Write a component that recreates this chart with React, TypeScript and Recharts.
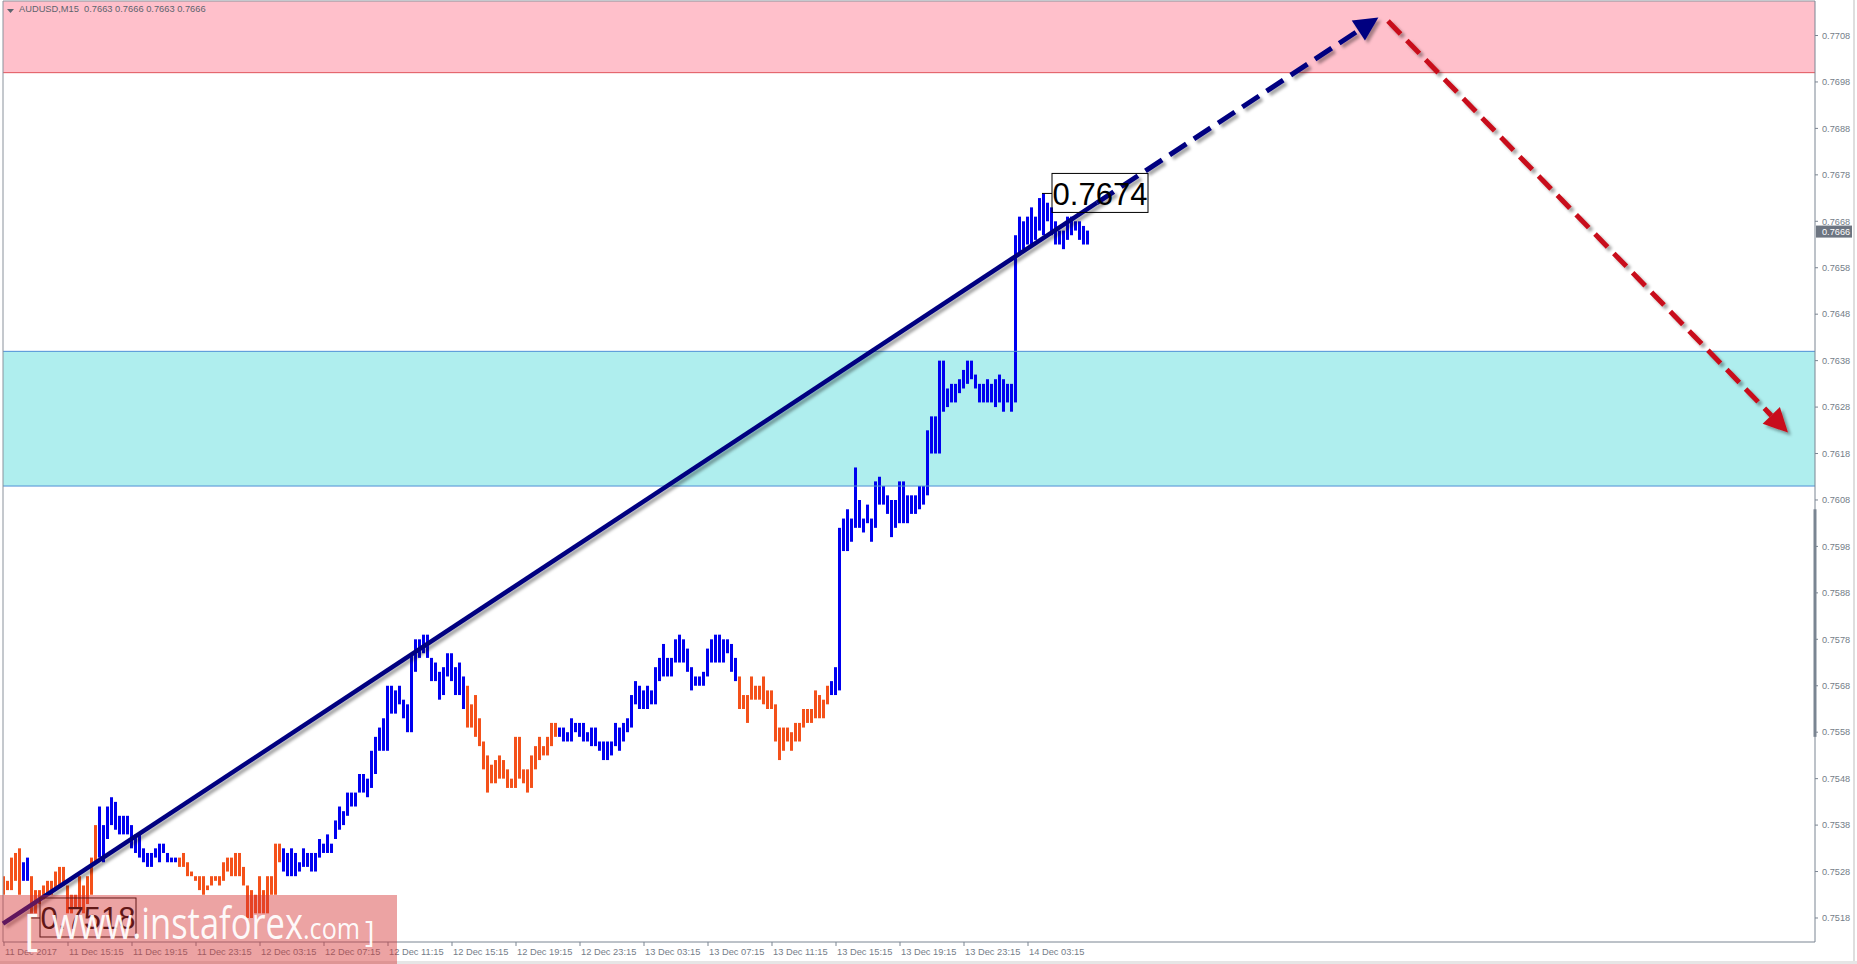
import React from 'react';
import { BarChart, Bar, XAxis, YAxis, Cell, ReferenceArea, ReferenceLine, ReferenceDot } from 'recharts';

const symbol = 'AUDUSD';
const timeframe = 'M15';
// open, high, low, close of the last bar
const lastQuote = [0.7663, 0.7666, 0.7663, 0.7666];

const timeLabels = [
  '11 Dec 2017', '11 Dec 15:15', '11 Dec 19:15', '11 Dec 23:15', '12 Dec 03:15', '12 Dec 07:15',
  '12 Dec 11:15', '12 Dec 15:15', '12 Dec 19:15', '12 Dec 23:15', '13 Dec 03:15', '13 Dec 07:15',
  '13 Dec 11:15', '13 Dec 15:15', '13 Dec 19:15', '13 Dec 23:15', '14 Dec 03:15',
];
const barsPerLabel = 16;

const priceTicks = [
  0.7518, 0.7528, 0.7538, 0.7548, 0.7558, 0.7568, 0.7578, 0.7588, 0.7598, 0.7608,
  0.7618, 0.7628, 0.7638, 0.7648, 0.7658, 0.7668, 0.7678, 0.7688, 0.7698, 0.7708,
];

// M15 bars, 16 per row (4 hours)
const lows = [
  0.7523, 0.7524, 0.7524, 0.7526, 0.7523, 0.7526, 0.7526, 0.7519, 0.7519, 0.7521, 0.7522, 0.7523, 0.7523, 0.7524, 0.7525, 0.7525,
  0.7519, 0.7519, 0.7520, 0.7520, 0.7519, 0.7521, 0.7523, 0.7530, 0.7531, 0.7530, 0.7535, 0.7538, 0.7537, 0.7536, 0.7536, 0.7536,
  0.7533, 0.7532, 0.7531, 0.7530, 0.7529, 0.7529, 0.7531, 0.7530, 0.7532, 0.7530, 0.7530, 0.7530, 0.7529, 0.7529, 0.7527, 0.7527,
  0.7526, 0.7524, 0.7523, 0.7524, 0.7525, 0.7526, 0.7525, 0.7526, 0.7528, 0.7527, 0.7527, 0.7527, 0.7525, 0.7518, 0.7518, 0.7519,
  0.7519, 0.7519, 0.7519, 0.7523, 0.7523, 0.7530, 0.7528, 0.7527, 0.7527, 0.7527, 0.7528, 0.7529, 0.7529, 0.7528, 0.7528, 0.7531,
  0.7532, 0.7532, 0.7532, 0.7535, 0.7537, 0.7538, 0.7540, 0.7542, 0.7542, 0.7545, 0.7545, 0.7544, 0.7546, 0.7549, 0.7554, 0.7554,
  0.7554, 0.7562, 0.7562, 0.7564, 0.7561, 0.7558, 0.7558, 0.7571, 0.7574, 0.7575, 0.7574, 0.7569, 0.7569, 0.7565, 0.7566, 0.7570,
  0.7569, 0.7566, 0.7566, 0.7563, 0.7559, 0.7559, 0.7557, 0.7555, 0.7550, 0.7545, 0.7547, 0.7547, 0.7548, 0.7548, 0.7546, 0.7546,
  0.7546, 0.7548, 0.7547, 0.7545, 0.7546, 0.7550, 0.7552, 0.7553, 0.7553, 0.7555, 0.7557, 0.7557, 0.7556, 0.7556, 0.7556, 0.7558,
  0.7557, 0.7556, 0.7556, 0.7555, 0.7555, 0.7554, 0.7552, 0.7552, 0.7553, 0.7555, 0.7554, 0.7556, 0.7558, 0.7559, 0.7564, 0.7563,
  0.7563, 0.7563, 0.7564, 0.7564, 0.7569, 0.7570, 0.7570, 0.7570, 0.7573, 0.7573, 0.7573, 0.7571, 0.7567, 0.7568, 0.7568, 0.7568,
  0.7570, 0.7573, 0.7573, 0.7573, 0.7573, 0.7575, 0.7571, 0.7569, 0.7563, 0.7563, 0.7560, 0.7565, 0.7565, 0.7565, 0.7564, 0.7563,
  0.7563, 0.7556, 0.7552, 0.7554, 0.7556, 0.7554, 0.7556, 0.7556, 0.7559, 0.7560, 0.7560, 0.7561, 0.7561, 0.7561, 0.7564, 0.7566,
  0.7566, 0.7567, 0.7597, 0.7597, 0.7599, 0.7602, 0.7602, 0.7601, 0.7603, 0.7599, 0.7602, 0.7607, 0.7607, 0.7605, 0.7600, 0.7602,
  0.7603, 0.7603, 0.7603, 0.7605, 0.7605, 0.7606, 0.7607, 0.7609, 0.7618, 0.7618, 0.7618, 0.7627, 0.7628, 0.7629, 0.7629, 0.7631,
  0.7632, 0.7633, 0.7634, 0.7632, 0.7629, 0.7629, 0.7629, 0.7629, 0.7628, 0.7629, 0.7627, 0.7629, 0.7627, 0.7629, 0.7661, 0.7662,
  0.7663, 0.7663, 0.7664, 0.7666, 0.7665, 0.7668, 0.7665, 0.7663, 0.7663, 0.7662, 0.7664, 0.7665, 0.7666, 0.7664, 0.7663, 0.7663,
];

const highs = [
  0.7527, 0.7526, 0.7531, 0.7532, 0.7533, 0.7530, 0.7531, 0.7527, 0.7524, 0.7524, 0.7525, 0.7526, 0.7526, 0.7528, 0.7529, 0.7529,
  0.7525, 0.7523, 0.7523, 0.7527, 0.7525, 0.7527, 0.7531, 0.7538, 0.7542, 0.7538, 0.7542, 0.7544, 0.7543, 0.7540, 0.7540, 0.7540,
  0.7538, 0.7536, 0.7536, 0.7533, 0.7532, 0.7532, 0.7533, 0.7534, 0.7534, 0.7532, 0.7531, 0.7531, 0.7531, 0.7532, 0.7530, 0.7528,
  0.7527, 0.7527, 0.7527, 0.7525, 0.7527, 0.7527, 0.7527, 0.7530, 0.7531, 0.7531, 0.7532, 0.7532, 0.7529, 0.7525, 0.7524, 0.7523,
  0.7527, 0.7524, 0.7527, 0.7527, 0.7534, 0.7534, 0.7533, 0.7532, 0.7533, 0.7532, 0.7530, 0.7533, 0.7532, 0.7532, 0.7532, 0.7535,
  0.7534, 0.7536, 0.7534, 0.7539, 0.7542, 0.7541, 0.7545, 0.7545, 0.7545, 0.7549, 0.7549, 0.7548, 0.7554, 0.7557, 0.7559, 0.7561,
  0.7568, 0.7568, 0.7567, 0.7568, 0.7565, 0.7564, 0.7575, 0.7578, 0.7578, 0.7579, 0.7579, 0.7574, 0.7573, 0.7571, 0.7572, 0.7575,
  0.7575, 0.7572, 0.7573, 0.7570, 0.7568, 0.7564, 0.7566, 0.7561, 0.7556, 0.7553, 0.7551, 0.7552, 0.7553, 0.7552, 0.7550, 0.7548,
  0.7557, 0.7557, 0.7550, 0.7550, 0.7553, 0.7555, 0.7557, 0.7555, 0.7557, 0.7560, 0.7560, 0.7559, 0.7559, 0.7558, 0.7561, 0.7560,
  0.7560, 0.7560, 0.7558, 0.7559, 0.7559, 0.7556, 0.7556, 0.7556, 0.7556, 0.7560, 0.7559, 0.7560, 0.7561, 0.7566, 0.7569, 0.7568,
  0.7567, 0.7568, 0.7567, 0.7572, 0.7574, 0.7577, 0.7574, 0.7574, 0.7578, 0.7579, 0.7578, 0.7576, 0.7572, 0.7570, 0.7570, 0.7571,
  0.7576, 0.7578, 0.7579, 0.7579, 0.7578, 0.7578, 0.7577, 0.7574, 0.7570, 0.7566, 0.7566, 0.7570, 0.7568, 0.7568, 0.7570, 0.7567,
  0.7567, 0.7564, 0.7559, 0.7559, 0.7559, 0.7558, 0.7560, 0.7560, 0.7563, 0.7563, 0.7563, 0.7567, 0.7566, 0.7565, 0.7568, 0.7569,
  0.7572, 0.7602, 0.7604, 0.7606, 0.7604, 0.7615, 0.7608, 0.7604, 0.7607, 0.7604, 0.7612, 0.7613, 0.7611, 0.7609, 0.7608, 0.7608,
  0.7612, 0.7612, 0.7609, 0.7609, 0.7609, 0.7611, 0.7611, 0.7623, 0.7626, 0.7626, 0.7638, 0.7638, 0.7632, 0.7633, 0.7633, 0.7634,
  0.7636, 0.7638, 0.7638, 0.7635, 0.7633, 0.7633, 0.7634, 0.7633, 0.7634, 0.7635, 0.7634, 0.7633, 0.7633, 0.7665, 0.7669, 0.7668,
  0.7669, 0.7671, 0.7669, 0.7673, 0.7674, 0.7672, 0.7671, 0.7668, 0.7666, 0.7666, 0.7669, 0.7669, 0.7668, 0.7668, 0.7667, 0.7666,
];

// bar index ranges painted blue, the rest are orange
const blueRuns = [[5, 6], [24, 43], [70, 115], [139, 183], [207, 271]];

const sellZone = [0.77, 0.771543];
const buyZone = [0.7611, 0.764];
const trendLine = [{ i: -0.25, p: 0.75168 }, { i: 273.25, p: 0.7672 }];
const forecastUp = [{ i: 273.25, p: 0.7672 }, { i: 343.6, p: 0.77119 }];
const forecastDown = [{ i: 346, p: 0.77111 }, { i: 446, p: 0.76225 }];
const priceMarks = [{ i: 260, p: 0.7674 }, { i: 7, p: 0.7518 }];
const scaleMarker = [0.7606, 0.7557];

const X_DOMAIN: [number, number] = [-0.25, 452.75];
const Y_DOMAIN: [number, number] = [0.751283, 0.771543];

const BLUE = '#0000f0';
const ORANGE = '#f4511a';
const NAVY = '#000080';
const DARK_RED = '#c8101a';
const AXIS = '#7b8592';
const FONT = '"Liberation Sans", Arial, sans-serif';

const isBlue = (i: number) => blueRuns.some(([a, b]) => i >= a && i <= b);

const data = lows.map((lo, i) => ({ i, range: [lo, highs[i]] }));

const arrowLine = (color: string, width: number, dash: string | undefined, id: string, head: boolean) => (props: any) => {
  const { x1, y1, x2, y2 } = props;
  if ([x1, y1, x2, y2].some((v) => typeof v !== 'number' || isNaN(v))) return null;
  const dx = x2 - x1;
  const dy = y2 - y1;
  const len = Math.hypot(dx, dy) || 1;
  const ux = dx / len;
  const uy = dy / len;
  const L = head ? 24 : 0;
  const W = 12;
  const bx = x2 - ux * L;
  const by = y2 - uy * L;
  return (
    <g>
      <defs>
        <filter id={id} filterUnits="userSpaceOnUse" x={0} y={0} width={1857} height={964}>
          <feDropShadow dx={3} dy={3} stdDeviation={1.4} floodColor="#000" floodOpacity={0.35} />
        </filter>
      </defs>
      <g filter={`url(#${id})`}>
        <line x1={x1} y1={y1} x2={bx} y2={by} stroke={color} strokeWidth={width} strokeDasharray={dash} />
        {head && (
          <polygon
            points={`${x2},${y2} ${bx - uy * W},${by + ux * W} ${bx + uy * W},${by - ux * W}`}
            fill={color}
          />
        )}
      </g>
    </g>
  );
};

const priceBox = (text: string) => (props: any) => {
  const { cx, cy } = props;
  if (typeof cx !== 'number' || typeof cy !== 'number') return null;
  return (
    <g>
      <line x1={cx - 2} y1={cy} x2={cx + 8} y2={cy} stroke="#000" strokeWidth={1} />
      <rect x={cx + 8} y={cy - 20} width={96} height={39} fill="none" stroke="#000" strokeWidth={1} />
      <text x={cx + 56} y={cy} dy="0.36em" textAnchor="middle" fontSize={31} fontFamily={FONT} fill="#000">
        {text}
      </text>
    </g>
  );
};

// tag on the price scale, at the right end of the horizontal line
const lastPriceTag = (props: any) => {
  const { x1, x2, y1 } = props;
  if (typeof x1 !== 'number' || typeof x2 !== 'number' || typeof y1 !== 'number') return null;
  const right = Math.max(x1, x2);
  return (
    <g>
      <rect x={right + 1} y={y1 - 5} width={36} height={12} fill="#6d7581" />
      <text x={right + 7} y={y1 + 1} dy="0.355em" fontSize={9.2} fontFamily={FONT} fill="#fff">
        {lastQuote[3].toFixed(4)}
      </text>
    </g>
  );
};

const TimeTick = (props: any) => {
  const { x, y, payload } = props;
  return (
    <text x={x + 1} y={y} dy="0.71em" fontSize={9.3} fontFamily={FONT} fill="#747d88" textAnchor="start">
      {timeLabels[Math.round(payload.value / barsPerLabel)]}
    </text>
  );
};

const PriceTick = (props: any) => {
  const { x, y, payload } = props;
  return (
    <text x={x} y={y} dy="0.355em" fontSize={9.2} fontFamily={FONT} fill="#747d88" textAnchor="start">
      {Number(payload.value).toFixed(4)}
    </text>
  );
};

const App = () => {
  const header = `${symbol},${timeframe}  ${lastQuote.map((v) => v.toFixed(4)).join(' ')}`;
  return (
    <div style={{ position: 'absolute', left: 0, top: 0, width: 1857, height: 964, background: '#fff', overflow: 'hidden' }}>
      <BarChart
        width={1857}
        height={964}
        data={data}
        margin={{ top: 1, right: 0, bottom: 0, left: 3 }}
      >
        <XAxis
          dataKey="i"
          type="number"
          domain={X_DOMAIN}
          allowDataOverflow
          ticks={timeLabels.map((_, k) => k * barsPerLabel)}
          interval={0}
          height={22}
          tickSize={4}
          axisLine={{ stroke: AXIS }}
          tickLine={{ stroke: AXIS }}
          tick={<TimeTick />}
        />
        <YAxis
          orientation="right"
          type="number"
          domain={Y_DOMAIN}
          allowDataOverflow
          ticks={priceTicks}
          interval={0}
          width={42}
          tickSize={3}
          tickMargin={4}
          axisLine={{ stroke: AXIS }}
          tickLine={{ stroke: AXIS }}
          tick={<PriceTick />}
        />
        <ReferenceArea y1={sellZone[0]} y2={sellZone[1]} fill="#ffc0cb" fillOpacity={1} stroke="none" />
        <ReferenceArea y1={buyZone[0]} y2={buyZone[1]} fill="#afeeee" fillOpacity={1} stroke="none" />
        <ReferenceLine y={sellZone[0]} stroke="#e0545c" strokeWidth={1} />
        <ReferenceLine y={buyZone[0]} stroke="#4d8fd6" strokeWidth={1} />
        <ReferenceLine y={buyZone[1]} stroke="#4d8fd6" strokeWidth={1} />
        <ReferenceLine x={X_DOMAIN[0]} stroke="#8a929c" strokeWidth={1} />
        <ReferenceLine y={Y_DOMAIN[1]} stroke="#8a929c" strokeWidth={1} />
        <Bar dataKey="range" barSize={3} isAnimationActive={false}>
          {data.map((d) => (
            <Cell key={`bar-${d.i}`} fill={isBlue(d.i) ? BLUE : ORANGE} />
          ))}
        </Bar>
        {priceMarks.map((m) => (
          <ReferenceDot key={`mark-${m.i}`} x={m.i} y={m.p} r={0} shape={priceBox(m.p.toFixed(4))} />
        ))}
        <ReferenceLine
          segment={trendLine.map((pt) => ({ x: pt.i, y: pt.p }))}
          shape={arrowLine(NAVY, 4.5, undefined, 'sh-trend', false)}
        />
        <ReferenceLine
          segment={forecastUp.map((pt) => ({ x: pt.i, y: pt.p }))}
          shape={arrowLine(NAVY, 5, '20 9', 'sh-up', true)}
        />
        <ReferenceLine
          segment={forecastDown.map((pt) => ({ x: pt.i, y: pt.p }))}
          shape={arrowLine(DARK_RED, 5, '18 9', 'sh-down', true)}
        />
        <ReferenceLine
          segment={[{ x: X_DOMAIN[1], y: scaleMarker[0] }, { x: X_DOMAIN[1], y: scaleMarker[1] }]}
          stroke={AXIS}
          strokeWidth={3}
        />
        <ReferenceLine y={lastQuote[3]} shape={lastPriceTag} />
      </BarChart>

      {/* chart header */}
      <svg width={8} height={5} style={{ position: 'absolute', left: 7, top: 9 }}>
        <polygon points="0,0 7,0 3.5,4" fill="#5d646e" />
      </svg>
      <div
        style={{
          position: 'absolute', left: 19, top: 4, fontSize: 9.3, lineHeight: '10px',
          fontFamily: FONT, color: '#5d646e', whiteSpace: 'pre',
        }}
      >
        {header}
      </div>

      {/* window edges */}
      <div style={{ position: 'absolute', left: 1853, top: 0, width: 2, height: 964, background: '#dedede' }} />
      <div style={{ position: 'absolute', left: 0, top: 961, width: 1857, height: 3, background: '#e6e6e6' }} />

      {/* watermark */}
      <svg width={1857} height={964} style={{ position: 'absolute', left: 0, top: 0, pointerEvents: 'none' }}>
        <rect x={0} y={895} width={397} height={69} fill="rgb(212,50,50)" fillOpacity={0.45} />
        <g fill="#fff" fillOpacity={0.95} fontFamily='"Open Sans", sans-serif'>
          <text x={24} y={945} fontSize={44}>[</text>
          <text x={52} y={939} fontSize={44} textLength={251} lengthAdjust="spacingAndGlyphs">www.instaforex</text>
          <text x={303} y={939} fontSize={29} textLength={57} lengthAdjust="spacingAndGlyphs">.com</text>
          <text x={365} y={942} fontSize={29}>]</text>
        </g>
      </svg>
    </div>
  );
};

export default App;
